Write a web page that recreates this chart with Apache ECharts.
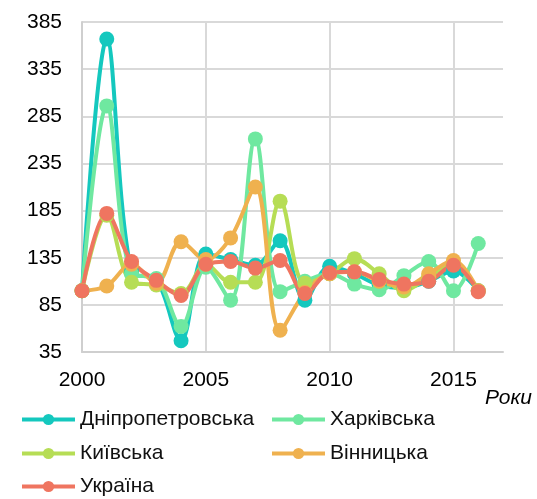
<!DOCTYPE html>
<html>
<head>
<meta charset="utf-8">
<script src="https://cdn.jsdelivr.net/npm/echarts@6/dist/echarts.min.js"></script>
<style>
  html, body { margin: 0; padding: 0; background: #fff; }
  #chart { width: 537px; height: 499px; }
</style>
</head>
<body>
<div id="chart"></div>
<script>
const years = [2000, 2001, 2002, 2003, 2004, 2005, 2006, 2007, 2008, 2009, 2010, 2011, 2012, 2013, 2014, 2015, 2016];

const dnipro    = [100, 367, 120, 112, 47, 139, 133, 127, 153, 90, 126, 118, 106, 103, 110, 121, 100];
const kharkiv   = [100, 296, 118, 113, 62, 125, 90, 261, 99, 110, 118, 107, 101, 116, 131, 100, 150];
const kyiv      = [100, 180, 109, 106, 97, 128, 109, 109, 195, 108, 118, 134, 118, 100, 115, 128, 100];
const vinnytsia = [100, 105, 128, 108, 152, 133, 156, 210, 58, 98, 118, 120, 110, 104, 118, 132, 100];
const ukraine   = [100, 182, 131, 111, 95, 128, 131, 124, 132, 97, 119, 120, 112, 107, 110, 127, 99];

const seriesNames = ['Дніпропетровська', 'Харківська', 'Київська', 'Вінницька', 'Україна'];
const seriesData = [dnipro, kharkiv, kyiv, vinnytsia, ukraine];
const colors = ['#14c8be', '#6fe8a0', '#b6dd55', '#efb14f', '#ef7560'];

const font = 'Liberation Sans, Arial, sans-serif';

// legend placement: two columns, three rows
const legendPos = [
  { left: 15, top: 404 },
  { left: 265, top: 404 },
  { left: 15, top: 438 },
  { left: 265, top: 438 },
  { left: 15, top: 471 }
];

const chart = echarts.init(document.getElementById('chart'));

chart.setOption({
  animation: false,
  color: colors,
  grid: { left: 82, right: 34, top: 22, bottom: 147 },
  legend: seriesNames.map((name, i) => ({
    data: [name],
    left: legendPos[i].left,
    top: legendPos[i].top,
    itemWidth: 53,
    itemHeight: 14,
    lineStyle: { width: 4 },
    textStyle: { fontFamily: font, fontSize: 21, color: '#111' }
  })),
  xAxis: {
    type: 'value',
    min: 2000,
    max: 2017,
    interval: 5,
    name: 'Роки',
    nameLocation: 'end',
    nameGap: 0,
    nameTextStyle: {
      fontFamily: font, fontSize: 21, fontStyle: 'italic', color: '#000',
      align: 'left', verticalAlign: 'top', padding: [36, 0, 0, -18]
    },
    axisLine: { show: true, lineStyle: { color: '#cfcfcf', width: 2 } },
    axisTick: { show: false },
    axisLabel: {
      fontFamily: font, fontSize: 21, color: '#000', margin: 18,
      showMaxLabel: false,
      formatter: v => String(v)
    },
    splitLine: {
      show: true,
      lineStyle: { color: ['#d9d9d9', '#d9d9d9', '#d9d9d9', '#d9d9d9', 'rgba(0,0,0,0)'], width: 2 }
    }
  },
  yAxis: {
    type: 'value',
    min: 35,
    max: 385,
    interval: 50,
    axisLine: { show: true, lineStyle: { color: '#cfcfcf', width: 2 } },
    axisTick: { show: false },
    axisLabel: { fontFamily: font, fontSize: 21, color: '#000', margin: 20 },
    splitLine: { show: true, lineStyle: { color: '#d9d9d9', width: 2 } }
  },
  series: seriesNames.map((name, i) => ({
    name: name,
    type: 'line',
    smooth: 0.35,
    data: years.map((y, j) => [y, seriesData[i][j]]),
    symbol: 'circle',
    symbolSize: 15,
    lineStyle: { width: 4, color: colors[i] },
    itemStyle: { color: colors[i] }
  }))
});
</script>
</body>
</html>
